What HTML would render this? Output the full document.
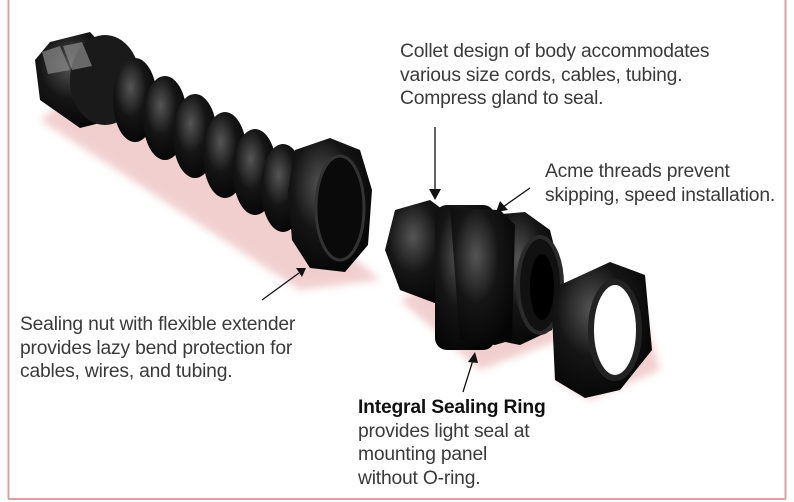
<!DOCTYPE html>
<html><head><meta charset="utf-8"><style>
html,body{margin:0;padding:0;background:#fff}
#w{position:relative;width:794px;height:502px;overflow:hidden;background:#fff}
.t{position:absolute;font-family:"Liberation Sans",sans-serif;font-size:19.3px;line-height:23.5px;color:#3a3a3a;white-space:nowrap;letter-spacing:-0.2px}
b{color:#111}
</style></head><body><div id="w">
<svg width="794" height="502" style="position:absolute;left:0;top:0">
<defs>
<radialGradient id="g" cx="40%" cy="35%" r="70%"><stop offset="0" stop-color="#555"/><stop offset="0.5" stop-color="#151515"/><stop offset="1" stop-color="#050505"/></radialGradient>
<filter id="sh"><feGaussianBlur stdDeviation="4"/></filter>
</defs>
<line x1="8.5" y1="0" x2="8.5" y2="499" stroke="#d7a4a4" stroke-width="2"/>
<line x1="785.5" y1="0" x2="785.5" y2="499" stroke="#d7a4a4" stroke-width="2"/>
<line x1="8" y1="499" x2="786" y2="499" stroke="#d7a4a4" stroke-width="2"/>
<g filter="url(#sh)" fill="#e8b0b0" opacity="0.6">
<polygon points="40,120 300,290 380,280 120,60"/>
<polygon points="400,300 480,370 560,340 490,250"/>
<polygon points="555,380 590,400 660,370 640,300"/>
</g>
<g fill="url(#g)">
<polygon points="50,42 90,32 125,70 120,118 80,128 40,100 35,60"/>
<ellipse cx="105" cy="80" rx="35" ry="45" fill="#1a1a1a"/>
<ellipse cx="135" cy="100" rx="22" ry="42"/>
<ellipse cx="165" cy="118" rx="22" ry="42"/>
<ellipse cx="195" cy="136" rx="22" ry="42"/>
<ellipse cx="225" cy="155" rx="22" ry="43"/>
<ellipse cx="255" cy="172" rx="22" ry="43"/>
<ellipse cx="283" cy="188" rx="22" ry="44"/>
<polygon points="295,150 330,138 360,150 372,190 368,245 345,272 310,268 292,240 288,190"/>
<ellipse cx="340" cy="208" rx="24" ry="52" fill="#0a0a0a" stroke="#333" stroke-width="3"/>
</g>
<g fill="#8a8a8a" opacity="0.7">
<polygon points="42,52 60,46 70,70 48,74"/>
<polygon points="63,46 82,42 92,66 72,70"/>
</g>
<g fill="url(#g)">
<polygon points="395,210 430,200 450,215 455,300 440,305 400,290 385,250"/>
<rect x="435" y="205" width="60" height="145" rx="12"/>
<polygon points="490,215 525,212 550,230 560,270 552,330 520,345 495,340"/>
<polygon points="450,208 500,210 515,225 512,340 495,345 460,340"/>
<ellipse cx="540" cy="285" rx="22" ry="48" fill="#111" stroke="#2a2a2a" stroke-width="4"/>
<ellipse cx="542" cy="287" rx="12" ry="33" fill="#000"/>
<polygon points="560,285 610,262 645,275 652,350 620,390 585,398 555,380 552,315"/>
<ellipse cx="615" cy="330" rx="24" ry="48" fill="#fff" stroke="#222" stroke-width="6"/>
</g>
<g stroke="#111" stroke-width="1.3" fill="#111">
<line x1="435" y1="127" x2="435" y2="192"/><polygon points="429,189 441,189 435,200" stroke="none"/>
<line x1="530" y1="188" x2="503" y2="207"/><polygon points="496,212 500,201 508,210" stroke="none"/>
<line x1="262" y1="300" x2="299" y2="273"/><polygon points="306,268 296,268 302,277" stroke="none"/>
<line x1="463" y1="392" x2="473" y2="360"/><polygon points="475,352 468,362 478,363" stroke="none"/>
</g>
</svg>
<div class="t" style="left:400px;top:40px">Collet design of body accommodates<br>various size cords, cables, tubing.<br>Compress gland to seal.</div>
<div class="t" style="left:545px;top:160px">Acme threads prevent<br>skipping, speed installation.</div>
<div class="t" style="left:20px;top:313px">Sealing nut with flexible extender<br>provides lazy bend protection for<br>cables, wires, and tubing.</div>
<div class="t" style="left:358px;top:396px"><b>Integral Sealing Ring</b><br>provides light seal at<br>mounting panel<br>without O-ring.</div>
</div></body></html>
